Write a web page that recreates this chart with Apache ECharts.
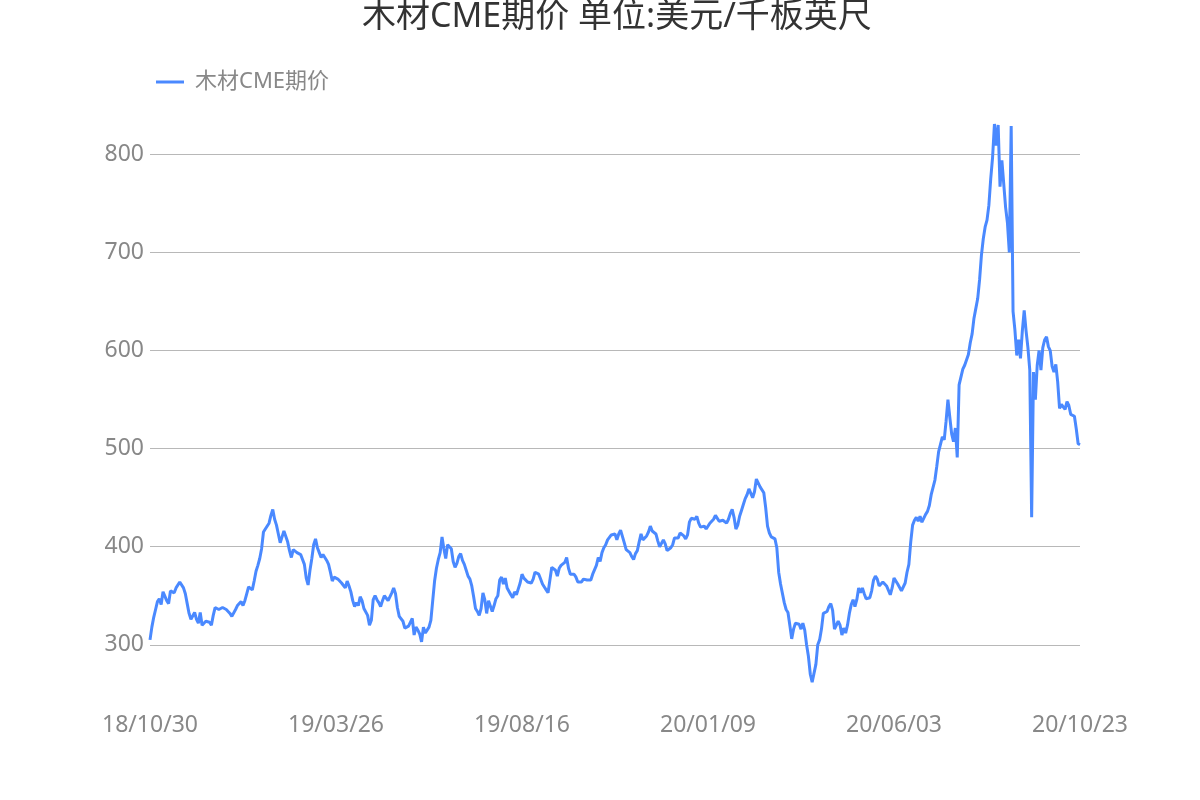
<!DOCTYPE html>
<html>
<head>
<meta charset="utf-8">
<script src="https://cdn.jsdelivr.net/npm/echarts@6/dist/echarts.min.js"></script>
<style>
html, body { margin: 0; padding: 0; background: #fff; }
#charts { width: 1200px; height: 800px; }
</style>
</head>
<body>
<div id="charts"></div>
<script>
// trading days from start to end, CME closed on these
const startDate = '2018-10-30'
const endDate = '2020-10-23'
const holidays = [
    '2018-11-22', '2018-12-25', '2019-01-01', '2019-01-21', '2019-02-18',
    '2019-04-19', '2019-05-27', '2019-07-04', '2019-09-02', '2019-11-28',
    '2019-12-25', '2020-01-01', '2020-01-20', '2020-02-17', '2020-04-10',
    '2020-05-25', '2020-07-03', '2020-09-07'
]

const seriesName = '木材CME期价'
const titleText = '木材CME期价 单位:美元/千板英尺'

// 美元/千板英尺
const price = [
    305, 318, 328, 336, 344, 347, 341, 354, 352, 345,
    342, 355, 357, 353, 358, 359, 364, 362, 358, 352,
    342, 332, 326, 324, 333, 326, 322, 333, 320, 321,
    324, 326, 323, 320, 330, 338, 337, 336, 338, 338,
    337, 336, 334, 332, 329, 331, 336, 340, 338, 344,
    340, 345, 352, 359, 360, 356, 365, 375, 381, 388,
    398, 415, 418, 420, 424, 432, 438, 428, 422, 413,
    404, 410, 416, 414, 405, 396, 389, 397, 396, 394,
    393, 392, 391, 382, 368, 361, 376, 388, 402, 408,
    399, 394, 389, 392, 390, 386, 382, 374, 365, 369,
    368, 367, 369, 363, 365, 358, 365, 360, 354, 345,
    339, 343, 340, 349, 345, 337, 339, 330, 320, 325,
    346, 350, 346, 343, 339, 345, 350, 349, 345, 346,
    353, 358, 352, 338, 329, 328, 324, 317, 319, 319,
    321, 327, 310, 318, 315, 311, 303, 318, 312, 315,
    318, 325, 345, 365, 378, 387, 394, 410, 398, 388,
    402, 404, 398, 385, 379, 383, 390, 393, 386, 382,
    376, 370, 367, 360, 349, 337, 334, 330, 337, 353,
    346, 332, 345, 343, 334, 340, 347, 350, 366, 369,
    362, 368, 358, 358, 351, 348, 354, 351, 357, 363,
    372, 368, 368, 364, 362, 363, 367, 374, 373, 372,
    367, 362, 359, 356, 353, 366, 379, 380, 376, 370,
    378, 381, 381, 384, 389, 378, 372, 373, 372, 369,
    364, 362, 364, 367, 368, 366, 368, 366, 372, 374,
    381, 389, 385, 394, 399, 402, 407, 408, 412, 410,
    413, 407, 413, 417, 417, 404, 397, 395, 394, 390,
    387, 393, 396, 405, 413, 407, 408, 411, 415, 421,
    416, 417, 413, 406, 400, 402, 407, 403, 396, 396,
    399, 402, 409, 411, 409, 414, 416, 411, 408, 412,
    425, 429, 428, 428, 431, 424, 420, 421, 421, 418,
    420, 424, 423, 428, 432, 430, 426, 425, 427, 429,
    424, 428, 434, 438, 430, 418, 422, 431, 437, 443,
    449, 453, 459, 460, 450, 456, 469, 471, 461, 459,
    455, 440, 421, 414, 410, 408, 408, 399, 374, 362,
    363, 343, 336, 333, 320, 306, 316, 322, 323, 321,
    316, 322, 315, 300, 288, 270, 262, 264, 280, 300,
    305, 316, 332, 334, 334, 339, 342, 335, 316, 318,
    324, 320, 310, 317, 312, 320, 332, 341, 346, 339,
    346, 358, 353, 358, 352, 347, 346, 348, 355, 366,
    370, 367, 360, 358, 364, 364, 360, 358, 351, 358,
    368, 368, 362, 360, 355, 354, 363, 374, 382, 405,
    422, 427, 430, 426, 431, 425, 426, 433, 436, 442,
    453, 455, 468, 482, 497, 496, 512, 509, 528, 550,
    532, 515, 507, 521, 491, 565, 567, 581, 585, 587,
    596, 608, 617, 633, 643, 653, 672, 697, 714, 726,
    733, 748, 775, 797, 831, 809, 830, 767, 794, 770,
    746, 730, 700, 829, 640, 621, 595, 611, 592, 620,
    641, 620, 603, 580, 430, 578, 550, 585, 600, 580,
    603, 611, 614, 604, 600, 584, 578, 586, 568, 541,
    545, 544, 540, 548, 544, 535, 534, 533, 520, 505,
    504
]

let dates = []
let d = new Date(startDate + 'T00:00:00Z')
const end = new Date(endDate + 'T00:00:00Z')
while (d <= end) {
    let iso = d.toISOString().slice(0, 10)
    let wd = d.getUTCDay()
    if (wd !== 0 && wd !== 6 && holidays.indexOf(iso) < 0) {
        dates.push(iso.slice(2).replace(/-/g, '/'))
    }
    d.setUTCDate(d.getUTCDate() + 1)
}

const font = "'Noto Sans', 'Noto Sans CJK SC', sans-serif"

let chart = echarts.init(document.getElementById('charts'))
chart.setOption({
    animation: false,
    textStyle: { fontFamily: font },
    title: {
        text: titleText,
        left: 357,
        top: -5,
        textStyle: {
            fontFamily: font,
            fontSize: 34,
            fontWeight: 'normal',
            color: '#333'
        }
    },
    legend: {
        data: [seriesName],
        left: 151,
        top: 66,
        icon: 'rect',
        itemWidth: 28,
        itemHeight: 3,
        textStyle: {
            fontFamily: font,
            fontSize: 22,
            color: '#888',
            padding: [0, 0, 0, 6]
        }
    },
    grid: {
        left: 150,
        right: 120,
        top: 123,
        bottom: 114,
        outerBoundsMode: 'none'
    },
    xAxis: {
        type: 'category',
        boundaryGap: false,
        data: dates,
        axisLine: { show: false },
        axisTick: { show: false },
        axisLabel: {
            interval: 99,
            color: '#888',
            fontFamily: font,
            fontSize: 23,
            margin: 28
        }
    },
    yAxis: {
        type: 'value',
        min: 258,
        max: 832,
        axisLine: { show: false },
        axisTick: { show: false },
        axisLabel: {
            color: '#888',
            fontFamily: font,
            fontSize: 23,
            margin: 6,
            showMinLabel: false,
            showMaxLabel: false
        },
        splitLine: {
            showMinLine: false,
            showMaxLine: false,
            lineStyle: { color: '#b8b8b8' }
        }
    },
    series: [
        {
            name: seriesName,
            type: 'line',
            data: price,
            symbol: 'none',
            lineStyle: { width: 3, color: '#4a89ff' },
            itemStyle: { color: '#4a89ff' }
        }
    ]
});
</script>
</body>
</html>
